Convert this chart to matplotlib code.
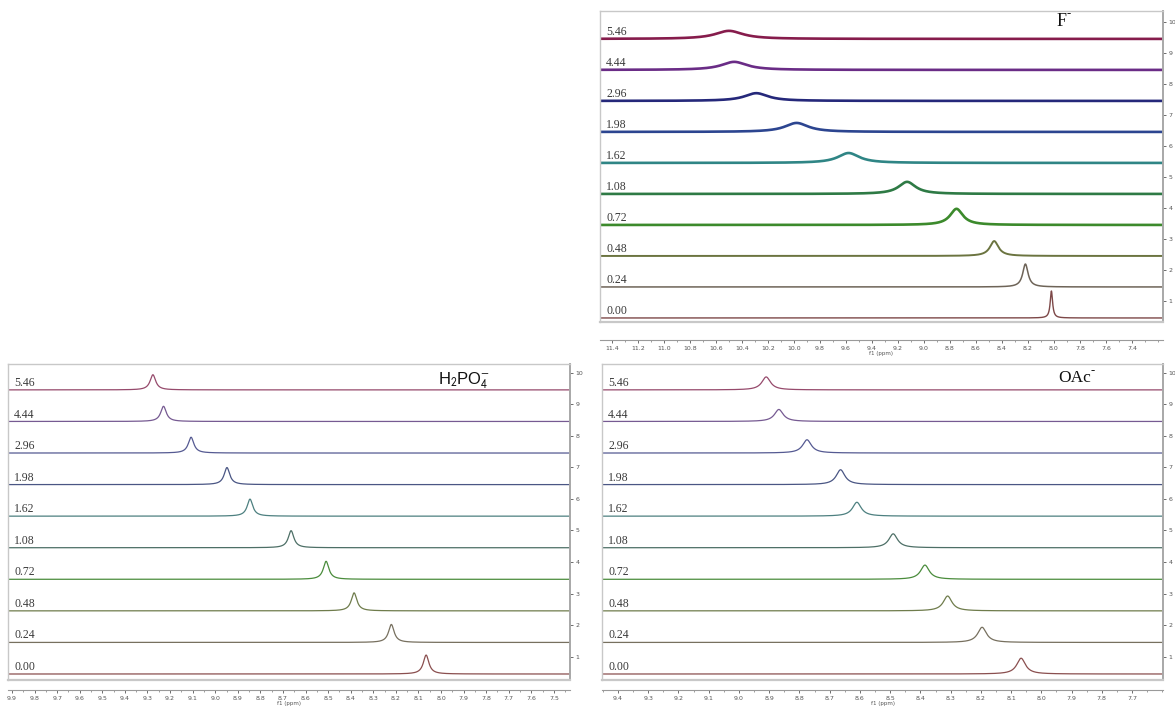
import numpy as np
import matplotlib.pyplot as plt
from matplotlib.ticker import MultipleLocator, FormatStrFormatter
from matplotlib.transforms import blended_transform_factory

# equivalentes de anion añadidos (de abajo hacia arriba)
equivalentes = ['0.00', '0.24', '0.48', '0.72', '1.08', '1.62', '1.98', '2.96', '4.44', '5.46']

# desplazamiento (ppm), altura relativa y anchura a media altura (ppm) de la señal NH
desp_F = [8.02, 8.22, 8.46, 8.75, 9.13, 9.58, 9.98, 10.29, 10.46, 10.50]
alto_F = [0.87, 0.74, 0.48, 0.52, 0.39, 0.32, 0.29, 0.25, 0.26, 0.26]
ancho_F = [0.022, 0.05, 0.08, 0.12, 0.16, 0.20, 0.22, 0.22, 0.24, 0.26]

desp_H2PO4 = [8.066, 8.22, 8.385, 8.509, 8.664, 8.846, 8.948, 9.107, 9.229, 9.276]
alto_H2PO4 = [0.60, 0.57, 0.57, 0.57, 0.54, 0.54, 0.54, 0.50, 0.48, 0.48]
ancho_H2PO4 = [0.030, 0.030, 0.030, 0.030, 0.030, 0.030, 0.030, 0.030, 0.030, 0.030]

desp_OAc = [8.067, 8.196, 8.31, 8.385, 8.49, 8.61, 8.664, 8.775, 8.868, 8.91]
alto_OAc = [0.50, 0.48, 0.47, 0.45, 0.44, 0.44, 0.47, 0.42, 0.38, 0.41]
ancho_OAc = [0.035, 0.035, 0.035, 0.035, 0.035, 0.035, 0.035, 0.035, 0.035, 0.035]

# rango de etiquetas del eje f1 (inicio, fin, paso)
marcas_F = (11.4, 7.4, 0.2)
marcas_H2PO4 = (9.9, 7.5, 0.1)
marcas_OAc = (9.4, 7.7, 0.1)

colores_F = ['#7d4848', '#6e6458', '#6b7440', '#3c8a2c', '#2e7a45',
             '#2f8585', '#2c4590', '#25287a', '#6a2c86', '#861c4c']
colores_suaves = ['#8a4f4f', '#77705f', '#6f7c4c', '#4a8c3c', '#4d6f66',
                  '#4d8080', '#4a5684', '#555a92', '#765a92', '#964a6c']

grosor_F = [1.0, 1.1, 1.4, 1.9, 1.9, 1.9, 1.9, 1.9, 1.9, 1.9]
grosor_suave = [0.9] * 10

SERIF = ['Liberation Serif', 'DejaVu Serif']


def lorentz(x, x0, h, fwhm):
    return h / (1 + ((x - x0) / (fwhm / 2)) ** 2)


def px(x0, y0, x1, y1):
    # caja en pixeles -> fracciones de figura
    return [x0 / 1175, 1 - y1 / 706, (x1 - x0) / 1175, (y1 - y0) / 706]


def texto(fig, x, y, s, **kw):
    fig.text(x / 1175, 1 - y / 706, s, **kw)


def dibujar_panel(fig, caja, y_eje, xlim, ylim, marcas, desp, altos, anchos, colores, grosor):
    ax = fig.add_axes(caja)
    x = np.linspace(xlim[0], xlim[1], 5000)
    trans = blended_transform_factory(ax.transAxes, ax.transData)
    for i, eq in enumerate(equivalentes):
        y = i + lorentz(x, desp[i], altos[i], anchos[i])
        ax.plot(x, y, color=colores[i], lw=grosor[i], solid_joinstyle='round')
        ax.text(0.011, i + 0.03, eq, transform=trans, family='Liberation Serif',
                fontsize=8.5, color='#3a3a3a', va='bottom', ha='left')
    ax.set_xlim(xlim)
    ax.set_ylim(ylim)
    ax.set_xticks([])
    ax.yaxis.tick_right()
    ax.set_yticks([i + 0.55 for i in range(10)])
    ax.set_yticklabels([str(i + 1) for i in range(10)])
    ax.tick_params(axis='y', length=2.5, width=0.6, labelsize=4.5, pad=1.5,
                   colors='#555555')
    for s in ['top', 'left', 'bottom']:
        ax.spines[s].set_color('#c8c8c8')
        ax.spines[s].set_linewidth(1.0)
    ax.spines['bottom'].set_linewidth(1.6)
    ax.spines['right'].set_color('#a8a8a8')
    ax.spines['right'].set_linewidth(1.4)

    # eje f1 separado, debajo de la pila de espectros
    axx = fig.add_axes([caja[0], y_eje, caja[2], 0.0001])
    axx.set_xlim(xlim)
    axx.set_yticks([])
    for s in ['top', 'left', 'right']:
        axx.spines[s].set_visible(False)
    axx.spines['bottom'].set_color('#9a9a9a')
    axx.spines['bottom'].set_linewidth(0.8)
    ini, fin, paso = marcas
    n = int(round((ini - fin) / paso)) + 1
    axx.set_xticks([round(ini - k * paso, 1) for k in range(n)])
    axx.xaxis.set_major_formatter(FormatStrFormatter('%.1f'))
    axx.xaxis.set_minor_locator(MultipleLocator(paso / 2))
    axx.tick_params(axis='x', which='major', length=2.5, width=0.6, labelsize=4.5,
                    pad=1.5, colors='#555555')
    axx.tick_params(axis='x', which='minor', length=1.5, width=0.5, colors='#777777')
    axx.set_xlabel('f1 (ppm)', fontsize=4, labelpad=0.3, color='#555555')
    axx.patch.set_visible(False)
    return ax


def main():
    fig = plt.figure(figsize=(11.75, 7.06), dpi=100)

    dibujar_panel(fig, px(600, 11, 1163, 322), 1 - 340 / 706,
                  (11.4 + 12 / 130, 11.4 - 551 / 130), (-0.13, 9.9), marcas_F,
                  desp_F, alto_F, ancho_F, colores_F, grosor_F)
    dibujar_panel(fig, px(8, 364, 570, 680), 1 - 690 / 706,
                  (9.9 + 4 / 225.8, 9.9 - 558 / 225.8), (-0.19, 9.82), marcas_H2PO4,
                  desp_H2PO4, alto_H2PO4, ancho_H2PO4, colores_suaves, grosor_suave)
    dibujar_panel(fig, px(602, 364, 1163, 680), 1 - 690 / 706,
                  (9.4 + 16 / 302.4, 9.4 - 545 / 302.4), (-0.19, 9.82), marcas_OAc,
                  desp_OAc, alto_OAc, ancho_OAc, colores_suaves, grosor_suave)

    # nombre del anion en cada panel
    texto(fig, 1057, 21, 'F', family=SERIF, fontsize=13, va='center', color='#111111')
    texto(fig, 1067, 14, '-', family=SERIF, fontsize=9, va='center', color='#111111')
    texto(fig, 1058, 378, 'OAc', family=SERIF, fontsize=12.5, va='center', color='#111111')
    texto(fig, 1091, 371, '-', family=SERIF, fontsize=9, va='center', color='#111111')
    texto(fig, 438, 380, r'H$_2$PO$_4^{-}$', family='Liberation Sans',
          math_fontfamily='stixsans', fontsize=12, va='center', color='#111111')

    fig.savefig('out.png', dpi=100)


if __name__ == '__main__':
    main()
